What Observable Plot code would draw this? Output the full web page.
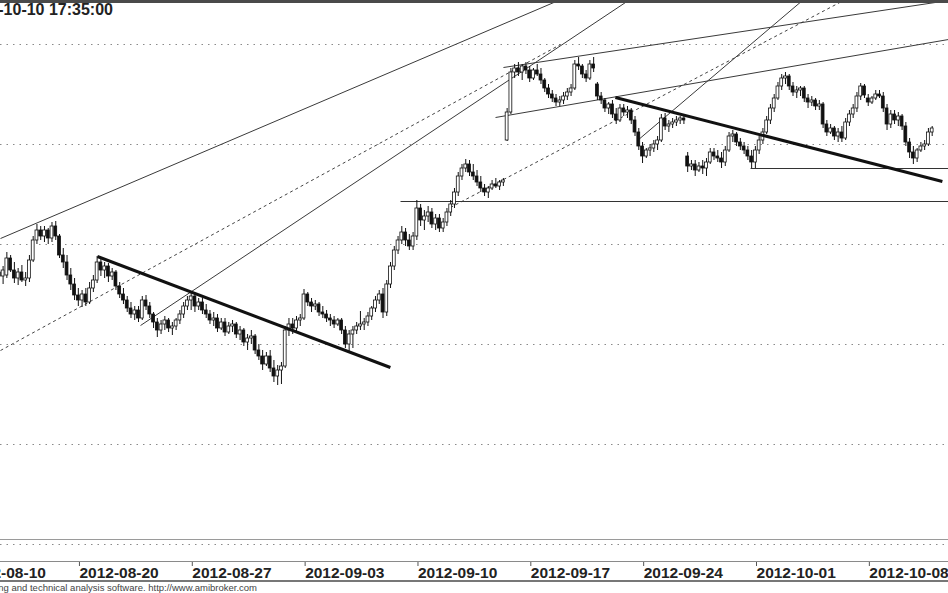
<!DOCTYPE html>
<html>
<head>
<meta charset="utf-8">
<script src="https://cdn.jsdelivr.net/npm/d3@7"></script>
<script src="https://cdn.jsdelivr.net/npm/@observablehq/plot@0.6"></script>
<style>
  html, body { margin: 0; padding: 0; background: #fff; overflow: hidden; }
  #wrap { position: relative; width: 948px; height: 593px; overflow: hidden; font-family: Arial, "Liberation Sans", sans-serif; }
  #chart { position: absolute; left: 0; top: 0; }
  .hl { position: absolute; left: 0; width: 948px; height: 0; }
  #title { position: absolute; right: 835px; top: 0px; font-size: 16px; font-weight: bold; color: #222; white-space: nowrap; line-height: 20px; }
  #footer { position: absolute; right: 691px; top: 582px; font-size: 9.5px; color: #444; white-space: nowrap; line-height: 11px; }
</style>
</head>
<body>
<div id="wrap">
  <div id="chart"></div>
  <div class="hl" style="top:0px;border-top:3px solid #4a4a4a"></div>
  <div class="hl" style="top:539px;border-top:1.5px solid #9a9a9a"></div>
  <div class="hl" style="top:561px;border-top:1.5px solid #8a8a8a"></div>
  <div class="hl" style="top:580px;border-top:2px solid #777"></div>
  <div id="title">2012-10-10 17:35:00</div>
  <div id="footer">AmiBroker - charting and technical analysis software. http://www.amibroker.com</div>
</div>
<script>
// Trading sessions (index 0 = 2012-08-10), six intraday bars per session
const sessions = ["2012-08-10","2012-08-13","2012-08-14","2012-08-16","2012-08-17",
  "2012-08-20","2012-08-21","2012-08-22","2012-08-23","2012-08-24",
  "2012-08-27","2012-08-28","2012-08-29","2012-08-30","2012-08-31",
  "2012-09-03","2012-09-04","2012-09-05","2012-09-06","2012-09-07",
  "2012-09-10","2012-09-11","2012-09-12","2012-09-13","2012-09-14",
  "2012-09-17","2012-09-18","2012-09-19","2012-09-20","2012-09-21",
  "2012-09-24","2012-09-25","2012-09-26","2012-09-27","2012-09-28",
  "2012-10-01","2012-10-02","2012-10-03","2012-10-04","2012-10-05",
  "2012-10-08","2012-10-09","2012-10-10"];
const barsPerSession = 6;
const firstDataSession = 1;

// Axis tick sessions and labels
const tickSessions = [0, 5, 10, 15, 20, 25, 30, 35, 40];
const tickLabels = ["2012-08-10","2012-08-20","2012-08-27","2012-09-03","2012-09-10","2012-09-17","2012-09-24","2012-10-01","2012-10-08"];

// Horizontal grid levels
const gridLevels = [2200, 2250, 2300, 2350, 2400, 2450];

// Intraday bars: [open, high, low, close], 6 per session from 2012-08-13
const ohlc = [
 [2337,2339.5,2332,2334.5],[2334.5,2338,2329.5,2333],[2333,2337,2330,2336],[2336,2339,2331,2334],[2334,2339,2330,2337],[2334.5,2346,2333,2343],
 [2343,2344.5,2336,2337],[2337,2341,2330.5,2333],[2333,2338,2329.5,2336],[2336,2339.5,2331,2332],[2332,2336,2329,2333],[2333,2344.5,2331,2342],
 [2342,2354,2341,2352],[2352,2360,2350,2357],[2357,2359,2352,2354],[2354,2359,2351,2357],[2357,2358,2350,2353],[2353,2361,2351,2359],
 [2359,2361.5,2352,2354],[2354,2355,2343,2344.5],[2344.5,2348,2338,2341],[2341,2344.5,2332,2334.5],[2334.5,2338,2327,2330],[2330,2333,2322,2324.5],
 [2324.5,2328,2319,2322],[2322,2327,2318.5,2325],[2325,2328,2319,2321],[2321,2331,2320,2328],[2328,2334.5,2326,2332],[2332,2344,2330.5,2341],
 [2341,2343,2334,2337],[2337,2341,2333,2339],[2339,2340.5,2331,2334],[2334,2338,2332,2336],[2336,2337,2327,2329],[2329,2331,2323,2325],
 [2325,2328,2320,2322],[2322,2324,2316,2318],[2318,2321,2313,2315],[2315,2319,2312,2317],[2317,2319,2311,2313],[2313,2324,2312,2322],
 [2322,2324.5,2317,2319],[2319,2321,2313,2315],[2315,2316,2308,2311],[2311,2313,2303.5,2307],[2307,2312,2305,2310],[2310,2314,2307,2312],
 [2312,2313,2306,2308],[2308,2311,2304.5,2309],[2309,2313,2307,2312],[2312,2317,2310,2315],[2315,2321,2313,2319],[2319,2324,2317,2322],
 [2322,2326,2317,2324],[2324,2325.5,2316,2319],[2319,2323,2317,2321],[2321,2323,2315,2317],[2317,2320,2313,2315],[2315,2317,2310,2312],
 [2312,2316,2309,2313],[2313,2315,2306,2308],[2308,2313,2307,2311],[2311,2313,2304,2306],[2306,2311,2305,2309],[2309,2312,2306,2310],
 [2310,2311,2303,2305],[2305,2309,2302,2307],[2307,2308,2299,2301],[2301,2305,2297,2303],[2303,2307,2300,2304],[2304,2305,2295,2297],
 [2297,2300,2292,2294],[2294,2297,2287,2290],[2290,2296,2289,2294],[2294,2297,2286,2288],[2288,2292,2281,2284],[2284,2289.5,2279.5,2287],
 [2287,2291,2280,2289],[2289,2309,2288,2307],[2307,2313,2304,2310],[2310,2313,2305,2308],[2308,2314,2306,2312],[2312,2315,2309,2313],
 [2313,2327.5,2312,2325],[2325,2326,2319,2321],[2321,2323,2316,2319],[2319,2322,2317,2320],[2320,2321,2314,2316],[2316,2319,2313,2315],
 [2315,2317,2311,2313],[2313,2315,2309,2312],[2312,2314,2308,2310],[2310,2313,2309,2312],[2312,2313,2305,2307],[2307,2309,2298,2300],
 [2300,2307,2296,2305],[2305,2309,2298,2307],[2307,2311,2305,2309],[2309,2316.5,2307,2310],[2310,2313,2307,2311],[2311,2316,2309,2314],
 [2314,2319,2312,2318],[2318,2324,2316,2322],[2322,2327,2320,2325],[2325,2328,2313,2316],[2316,2332,2314,2330],[2330,2341,2328,2339],
 [2339,2349,2337,2347],[2347,2354,2345,2352],[2352,2359,2350,2356],[2356,2358,2349,2352],[2352,2355,2347,2349],[2349,2356,2347,2354],
 [2354,2372,2352,2368],[2368,2370,2359,2362],[2362,2367,2357,2364],[2364,2369,2361,2366],[2366,2368,2358,2360],[2360,2365,2357,2363],
 [2363,2365,2356,2358],[2358,2363,2356,2361],[2361,2368,2359,2366],[2366,2372,2364,2370],[2370,2378,2368,2376],[2376,2386,2374,2384],
 [2384,2390,2382,2388],[2388,2392.5,2386,2390],[2390,2392,2384,2386],[2386,2390,2382,2384],[2384,2387,2379,2381],[2381,2384,2376,2378],
 [2378,2380,2374,2376],[2376,2379,2373,2378],[2378,2382,2377,2380],[2380,2383,2378,2379],[2379,2382,2377,2381],[2381,2383,2379,2382],
 [2402,2418,2401.5,2416],[2416,2438,2415,2436],[2436,2440,2433,2438],[2438,2441,2434,2436],[2436,2440,2432,2439],[2439,2441,2435,2437],
 [2437,2439,2431,2433],[2433,2438,2432,2437],[2437,2440,2434,2435],[2435,2438,2430,2432],[2432,2433,2426,2428],[2428,2430,2423,2425],
 [2425,2427,2421,2423],[2423,2425,2419,2421],[2421,2424,2419,2422],[2422,2426,2420,2424],[2424,2428,2422,2426],[2426,2430,2424,2428],
 [2428,2442,2427,2440],[2440,2443.5,2437,2439],[2439,2440,2433,2435],[2435,2437,2431,2433],[2433,2442,2432,2440],[2440,2443.5,2436,2438],
 [2430,2431,2422,2424],[2424,2426,2420,2422],[2422,2423,2416,2418],[2418,2421,2415,2420],[2420,2422,2413,2415],[2415,2418,2410,2412],
 [2412,2420,2411,2418],[2418,2420,2414,2416],[2416,2419,2413,2417],[2417,2418,2410,2412],[2412,2414,2404,2406],[2406,2408,2397,2399],
 [2399,2401,2390.5,2394],[2394,2398,2393,2397],[2397,2400,2394,2398],[2398,2402,2396,2400],[2400,2404,2397,2402],[2402,2415,2401,2413],
 [2413,2415.5,2407,2409],[2409,2412,2406,2410],[2410,2413,2408,2411],[2411,2414,2409,2412],[2412,2414,2410,2413],[2413,2415,2410,2412],
 [2394,2396,2386,2389],[2389,2392,2387,2390],[2390,2392,2384,2387],[2387,2391,2386,2389],[2389,2392,2385,2388],[2388,2393,2384,2391],
 [2391,2398,2390,2396],[2396,2398,2392,2394],[2394,2397,2391,2393],[2393,2396,2388,2391],[2391,2399,2389,2397],[2397,2406,2396,2404],
 [2404,2407,2401,2405],[2405,2406,2399,2401],[2401,2403,2397,2399],[2399,2401,2395,2397],[2397,2399,2392,2394],[2394,2397,2388,2391],
 [2391,2399,2388,2397],[2397,2404,2395,2402],[2402,2408,2400,2406],[2406,2414,2405,2412],[2412,2420,2410,2418],[2418,2425,2416,2423],
 [2423,2431,2422,2429],[2429,2435,2427,2433],[2433,2436,2430,2434],[2434,2435,2427,2429],[2429,2431,2424,2426],[2426,2429,2423,2427],
 [2427,2429,2424,2428],[2428,2429,2421,2423],[2423,2425,2418,2421],[2421,2424,2419,2422],[2422,2423,2417,2419],[2419,2422,2417,2420],
 [2420,2421,2408,2410],[2410,2412,2404,2406],[2406,2410,2405,2408],[2408,2409,2402,2404],[2404,2408,2401,2406],[2406,2409,2401,2403],
 [2403,2413,2402,2411],[2411,2417,2409,2415],[2415,2420,2413,2418],[2418,2426,2416,2424],[2424,2430.5,2422,2429],[2429,2430,2423,2424.5],
 [2423,2425,2419,2421],[2421,2424,2420,2423],[2423,2427,2422,2425],[2425,2427,2423,2424],[2424,2426,2416,2418],[2418,2420,2407,2410],
 [2410,2417,2408,2415],[2415,2417,2410,2412],[2412,2416,2409,2414],[2414,2415,2407,2409],[2409,2411,2399,2401],[2401,2403,2393,2396],
 [2396,2399,2390,2393],[2393,2398,2391,2397],[2397,2401,2396,2399],[2399,2402,2397,2400],[2400,2408,2399,2406],[2406,2409,2404,2408]
];

// Drawn trendlines: [session1, price1, session2, price2]
const thinTrendlines = [
  [1.635, 2353, 26.36, 2472],
  [7.84, 2309.5, 29.46, 2472],
  [29.86, 2402, 37.17, 2472],
  [23.92, 2438.5, 43.64, 2472],
  [23.57, 2413.5, 43.64, 2452.5]
];
const dashedTrendlines = [
  [1.635, 2297, 26.45, 2450],
  [21.57, 2368.5, 38.99, 2472]
];
const thickTrendlines = [
  [5.93, 2344, 18.91, 2288.5],
  [28.88, 2423.5, 43.37, 2381.5]
];
const levelLines = [
  [19.36, 2371.5, 43.64, 2371.5],
  [34.87, 2388, 43.64, 2388]
];

const bars = ohlc.map(([o, h, l, c], i) => ({
  t: firstDataSession + Math.floor(i / barsPerSession) + ((i % barsPerSession) + 0.5) / barsPerSession,
  o, h, l, c
}));
const halfBody = 0.38 / barsPerSession;
const seg = (arr) => arr.map(([a, b, c, d]) => ({x1: a, y1: b, x2: c, y2: d}));
const labelOf = (d) => tickLabels[tickSessions.indexOf(d)];

const chart = Plot.plot({
  width: 948,
  height: 593,
  marginTop: 0,
  marginRight: 0,
  marginBottom: 31,
  marginLeft: 0,
  x: {domain: [1.635, 43.64], axis: null},
  y: {domain: [2191, 2472], axis: null},
  style: {background: "transparent", fontFamily: "Arial, 'Liberation Sans', sans-serif"},
  marks: [
    Plot.ruleY(gridLevels, {stroke: "#8a8a8a", strokeWidth: 1, strokeDasharray: "1.5,5"}),
    Plot.link(seg(dashedTrendlines), {x1: "x1", y1: "y1", x2: "x2", y2: "y2", stroke: "#444", strokeWidth: 1, strokeDasharray: "3,3"}),
    Plot.link(seg(thinTrendlines), {x1: "x1", y1: "y1", x2: "x2", y2: "y2", stroke: "#3a3a3a", strokeWidth: 1}),
    Plot.link(seg(levelLines), {x1: "x1", y1: "y1", x2: "x2", y2: "y2", stroke: "#333", strokeWidth: 1}),
    Plot.ruleX(bars, {x: "t", y1: "l", y2: "h", stroke: "#111", strokeWidth: 1}),
    Plot.rect(bars, {
      x1: d => d.t - halfBody, x2: d => d.t + halfBody,
      y1: "o", y2: "c",
      fill: d => d.c >= d.o ? "#fff" : "#111",
      stroke: "#111", strokeWidth: 0.8
    }),
    Plot.link(seg(thickTrendlines), {x1: "x1", y1: "y1", x2: "x2", y2: "y2", stroke: "#111", strokeWidth: 3}),
    Plot.axisX(tickSessions, {
      anchor: "bottom",
      tickSize: 5,
      tickPadding: 0,
      dy: -1,
      dx: 3,
      textAnchor: "start",
      tickFormat: labelOf,
      fontSize: 15.5,
      fontWeight: "bold",
      fill: "#222",
      stroke: "#555"
    })
  ]
});
document.getElementById("chart").appendChild(chart);
</script>
</body>
</html>
